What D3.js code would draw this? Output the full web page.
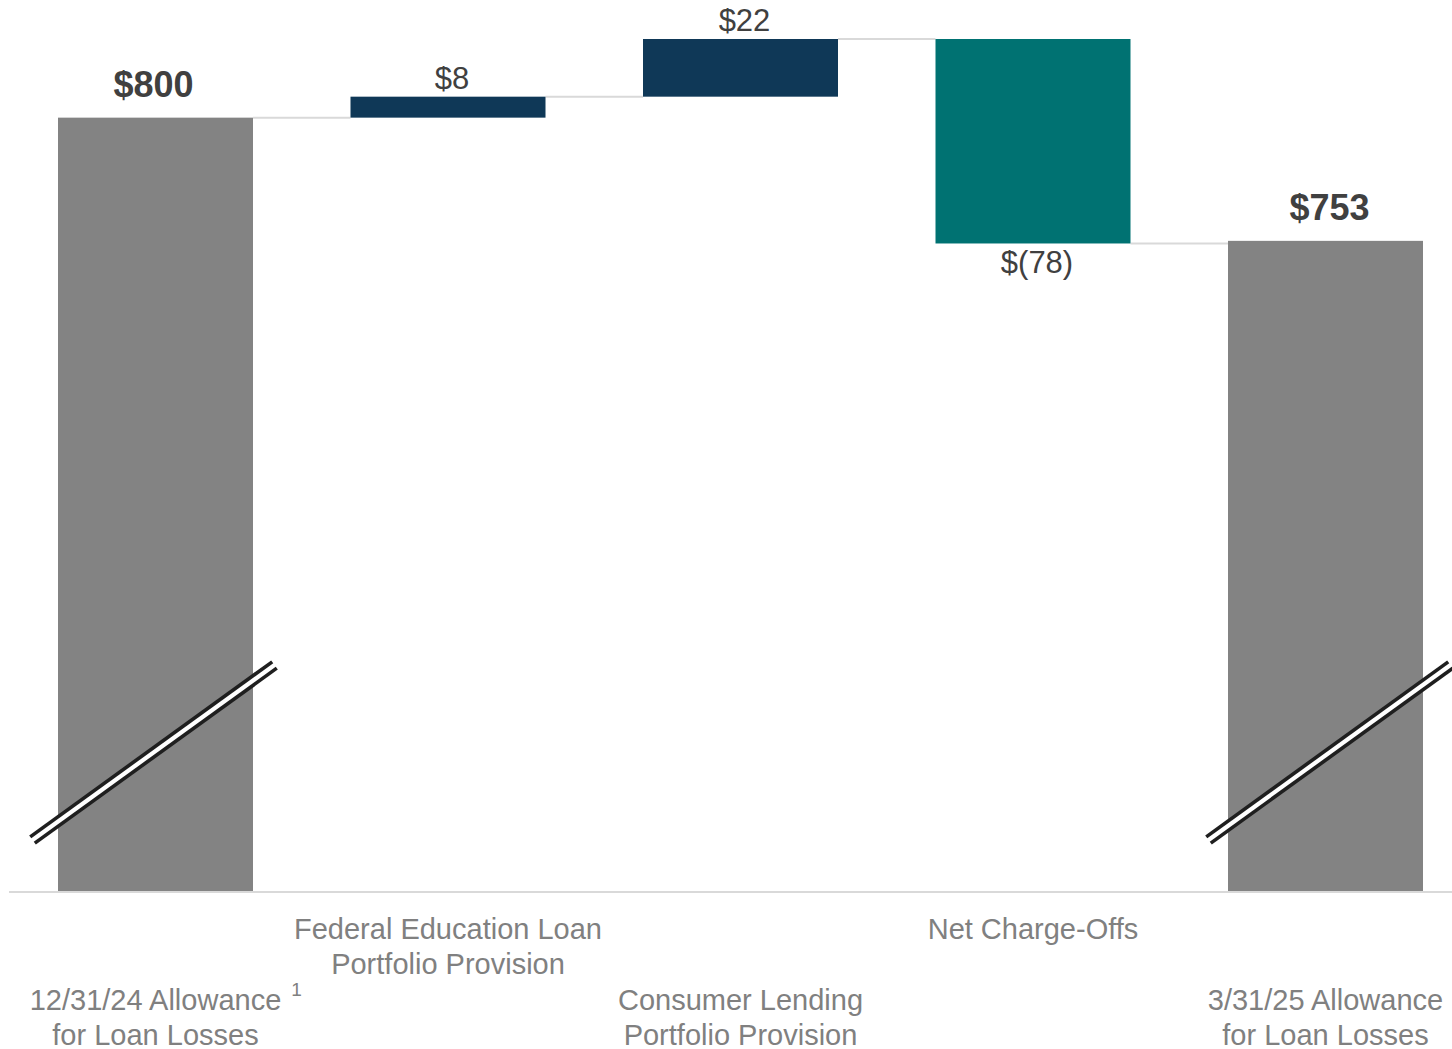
<!DOCTYPE html>
<html>
<head>
<meta charset="utf-8">
<script src="https://cdn.jsdelivr.net/npm/d3@7/dist/d3.min.js"></script>
<style>
  html, body { margin: 0; padding: 0; background: #ffffff; }
  svg { display: block; font-family: "Liberation Sans", Arial, sans-serif; }
</style>
</head>
<body>
<svg id="chart" width="1452" height="1049"></svg>
<script>
// Allowance for loan losses walk ($ millions)
const categories = [
  ["12/31/24 Allowance", "for Loan Losses"],
  ["Federal Education Loan", "Portfolio Provision"],
  ["Consumer Lending", "Portfolio Provision"],
  ["Net Charge-Offs"],
  ["3/31/25 Allowance", "for Loan Losses"]
];
const stepKinds = ["total", "increase", "increase", "decrease", "total"];
const stepValues = [800, 8, 22, -78, 753];
const valueLabels = ["$800", "$8", "$22", "$(78)", "$753"];
const labelRows = [0, 1, 0, 1, 0];   // 0 = lower row, 1 = upper row
const footnotes = ["1", "", "", "", ""];

const colors = { total: "#838383", increase: "#0f3857", decrease: "#007272" };

const svg = d3.select("#chart");
const W = 1452, H = 1049;
const baseY = 891;

// Build the floating segments of the waterfall
let running = 0;
const steps = stepValues.map((v, i) => {
  let lo, hi, end;
  if (stepKinds[i] === "total") {
    lo = null; hi = v; end = v; running = v;
  } else {
    const start = running;
    end = start + v;
    lo = Math.min(start, end); hi = Math.max(start, end);
    running = end;
  }
  return { i, kind: stepKinds[i], value: v, lo, hi, end, label: valueLabels[i] };
});

const x = d3.scaleBand()
  .domain(d3.range(categories.length))
  .range([9.25, 1471.75])
  .paddingInner(1 / 3)
  .paddingOuter(1 / 6);

// Broken value axis: the lower part of the totals is cut away
const y = d3.scaleLinear().domain([505, 830]).range([baseY, 39]);

// Connector lines between consecutive bars
const conn = steps.slice(0, -1).map((s, i) => ({
  x1: x(i) + x.bandwidth(), x2: x(i + 1), level: s.end
}));
svg.append("g").selectAll("line").data(conn).join("line")
  .attr("x1", d => d.x1).attr("x2", d => d.x2)
  .attr("y1", d => y(d.level)).attr("y2", d => y(d.level))
  .attr("stroke", "#d9d9d9").attr("stroke-width", 2);

// Bars
svg.append("g").selectAll("rect").data(steps).join("rect")
  .attr("x", d => x(d.i))
  .attr("width", x.bandwidth())
  .attr("y", d => y(d.hi))
  .attr("height", d => (d.kind === "total" ? baseY : y(d.lo)) - y(d.hi))
  .attr("fill", d => colors[d.kind]);

// Baseline
svg.append("line")
  .attr("x1", 9).attr("x2", W)
  .attr("y1", baseY + 1).attr("y2", baseY + 1)
  .attr("stroke", "#d9d9d9").attr("stroke-width", 2);

// Axis break marks on the total bars
const breakY = 752.5, bdx = 121, bdy = 87.5, gap = 7.8;
const nrm = [bdy / Math.hypot(bdx, bdy), bdx / Math.hypot(bdx, bdy)];
const breaks = svg.append("g");
steps.filter(d => d.kind === "total").forEach(d => {
  const cx = x(d.i) + x.bandwidth() / 2 + (d.i === 0 ? -2 : 4);
  breaks.append("line")
    .attr("x1", cx - bdx).attr("y1", breakY + bdy)
    .attr("x2", cx + bdx).attr("y2", breakY - bdy)
    .attr("stroke", "#ffffff").attr("stroke-width", gap);
  [-1, 1].forEach(s => {
    const ox = s * nrm[0] * gap / 2, oy = s * nrm[1] * gap / 2;
    breaks.append("line")
      .attr("x1", cx - bdx + ox).attr("y1", breakY + bdy + oy)
      .attr("x2", cx + bdx + ox).attr("y2", breakY - bdy + oy)
      .attr("stroke", "#1f1f1f").attr("stroke-width", 3.6);
  });
});

// Value labels
svg.append("g").selectAll("text").data(steps).join("text")
  .attr("x", d => x(d.i) + x.bandwidth() / 2 + (d.i === 0 ? -2 : 4))
  .attr("y", d => {
    if (d.kind === "total") return y(d.hi) - 21;
    if (d.kind === "increase") return y(d.hi) - 8;
    return y(d.lo) + 30;
  })
  .attr("text-anchor", "middle")
  .attr("font-size", d => d.kind === "total" ? 36 : 31)
  .attr("font-weight", d => d.kind === "total" ? "bold" : "normal")
  .attr("fill", "#404040")
  .text(d => d.label);

// Category labels, staggered on two rows
const catG = svg.append("g");
categories.forEach((lines, i) => {
  const cx = x(i) + x.bandwidth() / 2;
  const y0 = labelRows[i] === 1 ? 939 : 1010;
  const t = catG.append("text")
    .attr("text-anchor", "middle")
    .attr("font-size", 29)
    .attr("fill", "#808080");
  lines.forEach((ln, k) => {
    t.append("tspan").attr("x", cx).attr("y", y0 + k * 35).text(ln);
  });
  if (footnotes[i]) {
    const w = t.select("tspan").node().getComputedTextLength();
    catG.append("text")
      .attr("x", cx + w / 2 + 10)
      .attr("y", y0 - 14)
      .attr("font-size", 19)
      .attr("fill", "#808080")
      .text(footnotes[i]);
  }
});
</script>
</body>
</html>
